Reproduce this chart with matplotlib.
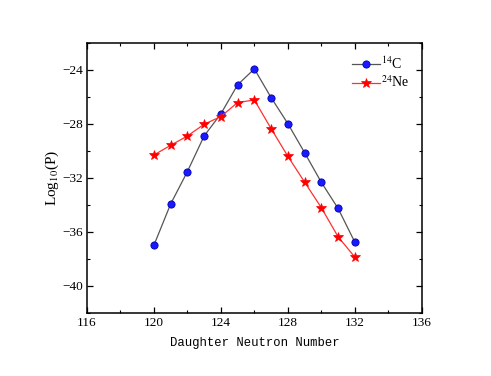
import matplotlib
matplotlib.use("Agg")
import matplotlib.pyplot as plt
from matplotlib.ticker import MultipleLocator

# neutron number of the daughter nucleus
neutrons = [120, 121, 122, 123, 124, 125, 126, 127, 128, 129, 130, 131, 132]

# log10 of preformation probability
log_p_c14 = [-37.0, -33.94, -31.54, -28.90, -27.26, -25.11, -23.93,
             -26.05, -27.98, -30.13, -32.33, -34.26, -36.76]
log_p_ne24 = [-30.31, -29.59, -28.90, -28.03, -27.46, -26.42, -26.23,
              -28.35, -30.40, -32.31, -34.21, -36.36, -37.87]

xticks = [116, 120, 124, 128, 132, 136]
yticks = [-24, -28, -32, -36, -40]

plt.rcParams['font.family'] = ['Liberation Serif', 'DejaVu Serif']
plt.rcParams['mathtext.fontset'] = 'stix'

fig = plt.figure(figsize=(4.91, 3.76), dpi=100)
ax = fig.add_axes([0.177, 0.168, 0.682, 0.718])

ax.plot(neutrons, log_p_c14, color='#555555', lw=0.9, marker='o', ms=5.2,
        mfc='#1a1aff', mec='#0000aa', mew=0.6, label=r'$^{14}$C')
ax.plot(neutrons, log_p_ne24, color='#ff3030', lw=0.9, marker='*', ms=7,
        mfc='red', mec='red', mew=0.5, label=r'$^{24}$Ne')

ax.set_xlim(116, 136)
ax.set_ylim(-42, -22)
ax.set_xticks(xticks)
ax.set_yticks(yticks)
ax.xaxis.set_minor_locator(MultipleLocator(2))
ax.yaxis.set_minor_locator(MultipleLocator(2))
ax.tick_params(which='both', direction='in', top=True, right=True, labelsize=9.5, pad=3)
ax.tick_params(which='major', length=4, width=0.9)
ax.tick_params(which='minor', length=2.5, width=0.8)
for sp in ax.spines.values():
    sp.set_linewidth(1.1)

ax.set_xlabel('Daughter Neutron Number', family='Liberation Mono', fontsize=8.8, labelpad=6)
ax.set_ylabel(r'Log$_{10}$(P)', fontsize=11, labelpad=1)

ax.legend(loc='upper right', frameon=False, fontsize=10, handlelength=2.0,
          handletextpad=0.1, labelspacing=0.2, borderaxespad=0.5)

fig.savefig('out.png', dpi=100)
